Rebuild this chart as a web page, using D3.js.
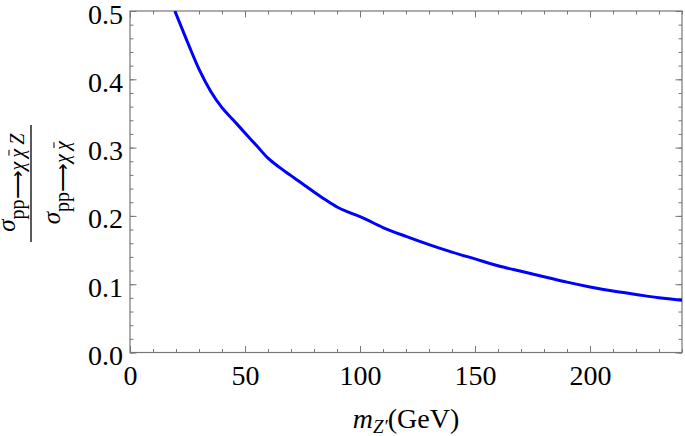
<!DOCTYPE html>
<html>
<head>
<meta charset="utf-8">
<script src="https://cdn.jsdelivr.net/npm/d3@7"></script>
<style>
  html, body { margin: 0; padding: 0; background: #fff; }
  svg { display: block; }
  text { font-family: "Liberation Serif", "Times New Roman", serif; fill: #000; }
</style>
</head>
<body>
<svg id="chart" width="685" height="436"></svg>
<script>
// ---- data ----
const massZp = [19.5, 25, 30, 35, 40, 45, 50, 55, 60, 65, 70, 75, 80, 85, 90, 95, 100,
                110, 120, 130, 140, 150, 160, 170, 180, 190, 200, 210, 220, 230, 240];
const ratio  = [0.500, 0.4545, 0.415, 0.383, 0.3585, 0.340, 0.3215, 0.303, 0.2845, 0.271, 0.259,
                0.247, 0.235, 0.2235, 0.213, 0.2055, 0.199, 0.183, 0.170, 0.158, 0.147, 0.137,
                0.127, 0.119, 0.111, 0.103, 0.096, 0.090, 0.085, 0.080, 0.0765];
const xMajorTicks = [0, 50, 100, 150, 200];
const xMinorTicks = d3.range(0, 241, 10);
const yMajorTicks = [0.0, 0.1, 0.2, 0.3, 0.4, 0.5];
const yMinorTicks = d3.range(0, 0.501, 0.02);

// ---- layout ----
const L = 130, R = 682, T = 11, B = 352.5;
const FONT = '"Liberation Serif", "Times New Roman", serif';
const svg = d3.select("#chart");
const x = d3.scaleLinear().domain([0, 240]).range([L, R]);
const y = d3.scaleLinear().domain([0, 0.5]).range([B, T]);
const frameColor = "#777";
const fs = 28;

function styleAxis(g) {
  g.attr("font-family", FONT);
  g.select(".domain").remove();
  g.selectAll(".tick line").attr("stroke", frameColor).attr("stroke-width", 1);
}

// minor ticks
const minorLen = 3.5, majorLen = 6.5;
svg.append("g").attr("transform", `translate(0,${B})`)
  .call(d3.axisBottom(x).tickValues(xMinorTicks).tickSize(-minorLen).tickFormat(""))
  .call(styleAxis);
svg.append("g").attr("transform", `translate(0,${T})`)
  .call(d3.axisTop(x).tickValues(xMinorTicks).tickSize(-minorLen).tickFormat(""))
  .call(styleAxis);
svg.append("g").attr("transform", `translate(${L},0)`)
  .call(d3.axisLeft(y).tickValues(yMinorTicks).tickSize(-minorLen).tickFormat(""))
  .call(styleAxis);
svg.append("g").attr("transform", `translate(${R},0)`)
  .call(d3.axisRight(y).tickValues(yMinorTicks).tickSize(-minorLen).tickFormat(""))
  .call(styleAxis);

// major ticks with labels
const xAxis = svg.append("g").attr("transform", `translate(0,${B})`)
  .call(d3.axisBottom(x).tickValues(xMajorTicks).tickSize(-majorLen).tickPadding(12.5).tickFormat(d3.format("d")))
  .call(styleAxis);
xAxis.selectAll("text").attr("font-size", fs).attr("font-family", FONT).attr("fill", "#000");

const yAxis = svg.append("g").attr("transform", `translate(${L},0)`)
  .call(d3.axisLeft(y).tickValues(yMajorTicks).tickSize(-majorLen).tickPadding(7).tickFormat(d3.format(".1f")))
  .call(styleAxis);
yAxis.selectAll("text").attr("font-size", fs).attr("font-family", FONT).attr("dy", "0.43em").attr("fill", "#000");

svg.append("g").attr("transform", `translate(0,${T})`)
  .call(d3.axisTop(x).tickValues(xMajorTicks).tickSize(-majorLen).tickFormat(""))
  .call(styleAxis);
svg.append("g").attr("transform", `translate(${R},0)`)
  .call(d3.axisRight(y).tickValues(yMajorTicks).tickSize(-majorLen).tickFormat(""))
  .call(styleAxis);

// frame
svg.append("rect").attr("x", L).attr("y", T).attr("width", R - L).attr("height", B - T)
  .attr("fill", "none").attr("stroke", frameColor).attr("stroke-width", 1.2);

// clip
svg.append("clipPath").attr("id", "clip").append("rect")
  .attr("x", L).attr("y", T).attr("width", R - L).attr("height", B - T);

// curve
const pts = massZp.map((m, i) => [m, ratio[i]]);
svg.append("path")
  .datum(pts)
  .attr("clip-path", "url(#clip)")
  .attr("fill", "none")
  .attr("stroke", "#0000ff")
  .attr("stroke-width", 3)
  .attr("stroke-linejoin", "round")
  .attr("d", d3.line().x(d => x(d[0])).y(d => y(d[1])).curve(d3.curveMonotoneX));

// x-axis title
const xt = svg.append("text").attr("x", (L + R) / 2).attr("y", 428).attr("text-anchor", "middle").attr("font-size", 28);
xt.append("tspan").attr("font-style", "italic").text("m");
xt.append("tspan").attr("font-style", "italic").attr("font-size", 19).attr("dy", 5).text("Z′");
xt.append("tspan").attr("dy", -5).text("(GeV)");

// y-axis title (fraction, rotated)
const yc = (T + B) / 2 + 1;
function sigmaLabel(px, withZ) {
  const g = svg.append("g").attr("transform", `translate(${px},${yc}) rotate(-90)`);
  const t = g.append("text").attr("text-anchor", "middle").attr("font-size", 25);
  t.append("tspan").attr("font-style", "italic").text("σ");
  t.append("tspan").attr("font-size", 20).attr("dy", 9).text("pp⟶");
  t.append("tspan").attr("font-size", 20).attr("font-style", "italic")
    .text(withZ ? "χ\u2009χ\u2009Z" : "χ\u2009χ");
  // bar over the second chi (char index: σ0 p1 p2 ⟶3 χ4 thin5 χ6)
  try {
    const e = t.node().getExtentOfChar(6);
    g.append("line")
      .attr("x1", e.x + 2).attr("x2", e.x + e.width - 1)
      .attr("y1", e.y + 3).attr("y2", e.y + 3)
      .attr("stroke", "#000").attr("stroke-width", 1);
  } catch (err) {}
}
sigmaLabel(15, true);
sigmaLabel(60, false);

svg.append("line").attr("x1", 31).attr("x2", 31).attr("y1", 125).attr("y2", 242)
  .attr("stroke", "#000").attr("stroke-width", 1.3);
</script>
</body>
</html>
